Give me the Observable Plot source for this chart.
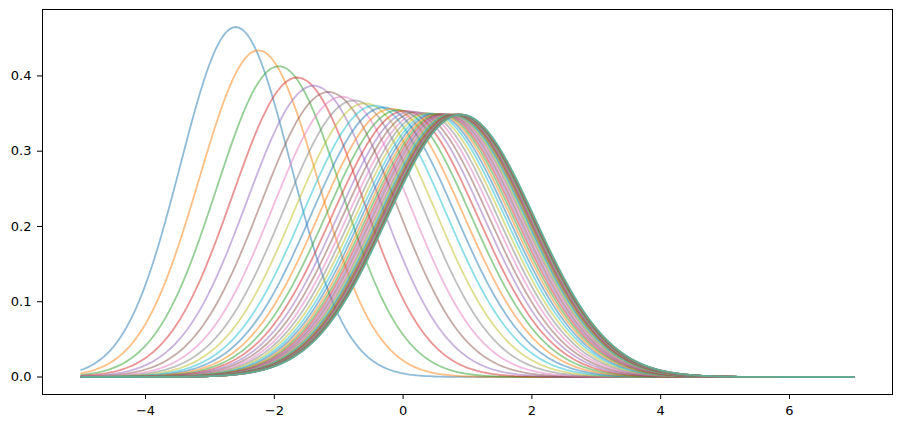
<!DOCTYPE html>
<html>
<head>
<meta charset="utf-8">
<script src="https://cdn.jsdelivr.net/npm/d3@7"></script>
<script src="https://cdn.jsdelivr.net/npm/@observablehq/plot@0.6"></script>
<style>
  body { margin: 0; background: #fff; }
</style>
</head>
<body>
<div id="chart"></div>
<script>
// Peak position of each curve (first curve on the left)
const means = [
  -2.600, -2.248, -1.931, -1.646, -1.390, -1.159, -0.951, -0.764, -0.595, -0.444,
  -0.307, -0.185, -0.074, 0.025, 0.115, 0.195, 0.268, 0.333, 0.392, 0.444,
  0.492, 0.535, 0.573, 0.608, 0.639, 0.667, 0.693, 0.715, 0.736, 0.754,
  0.771, 0.786, 0.799, 0.811, 0.822, 0.832, 0.841, 0.849, 0.856, 0.862,
  0.868, 0.873, 0.878, 0.882, 0.886, 0.889, 0.892, 0.895, 0.898, 0.900,
];
// Peak height of each curve
const peaks = [
  0.4650, 0.4340, 0.4129, 0.3979, 0.3870, 0.3787, 0.3724, 0.3675, 0.3636, 0.3606,
  0.3582, 0.3563, 0.3548, 0.3536, 0.3526, 0.3518, 0.3512, 0.3507, 0.3503, 0.3500,
  0.3497, 0.3495, 0.3493, 0.3492, 0.3491, 0.3490, 0.3489, 0.3488, 0.3488, 0.3487,
  0.3487, 0.3487, 0.3487, 0.3487, 0.3486, 0.3486, 0.3486, 0.3486, 0.3486, 0.3486,
  0.3486, 0.3486, 0.3486, 0.3486, 0.3486, 0.3486, 0.3486, 0.3486, 0.3486, 0.3486,
];
const xTicks = [-4, -2, 0, 2, 4, 6];
const yTicks = [0, 0.1, 0.2, 0.3, 0.4];

const tab10 = ["#1f77b4", "#ff7f0e", "#2ca02c", "#d62728", "#9467bd",
  "#8c564b", "#e377c2", "#7f7f7f", "#bcbd22", "#17becf"];

// sample points along x for every bell curve
const xGrid = d3.range(-5, 7.0001, 0.05);
const curveRows = (m, p) => {
  const sd = 1 / (p * Math.sqrt(2 * Math.PI));
  return xGrid.map((x) => ({ x, y: p * Math.exp(-((x - m) ** 2) / (2 * sd * sd)) }));
};

const lines = means.map((m, i) =>
  Plot.line(curveRows(m, peaks[i]), {
    x: "x",
    y: "y",
    stroke: tab10[i % 10],
    strokeOpacity: 0.5,
    strokeWidth: 1.8,
  })
);

document.getElementById("chart").appendChild(
  Plot.plot({
    width: 904,
    height: 428,
    marginLeft: 42,
    marginRight: 12,
    marginTop: 9,
    marginBottom: 34,
    style: { fontFamily: "DejaVu Sans", fontSize: "13px", color: "black", background: "white" },
    x: { domain: [-5.6, 7.6] },
    y: { domain: [-0.02325, 0.48825] },
    marks: [
      ...lines,
      Plot.frame({ stroke: "black", strokeWidth: 1 }),
      Plot.axisX({ ticks: xTicks, tickFormat: d3.format("d"), tickSize: 5, tickPadding: 6, fontSize: 13, label: null }),
      Plot.axisY({ ticks: yTicks, tickFormat: d3.format(".1f"), tickSize: 5, tickPadding: 6, fontSize: 13, label: null }),
    ],
  })
);
</script>
</body>
</html>
